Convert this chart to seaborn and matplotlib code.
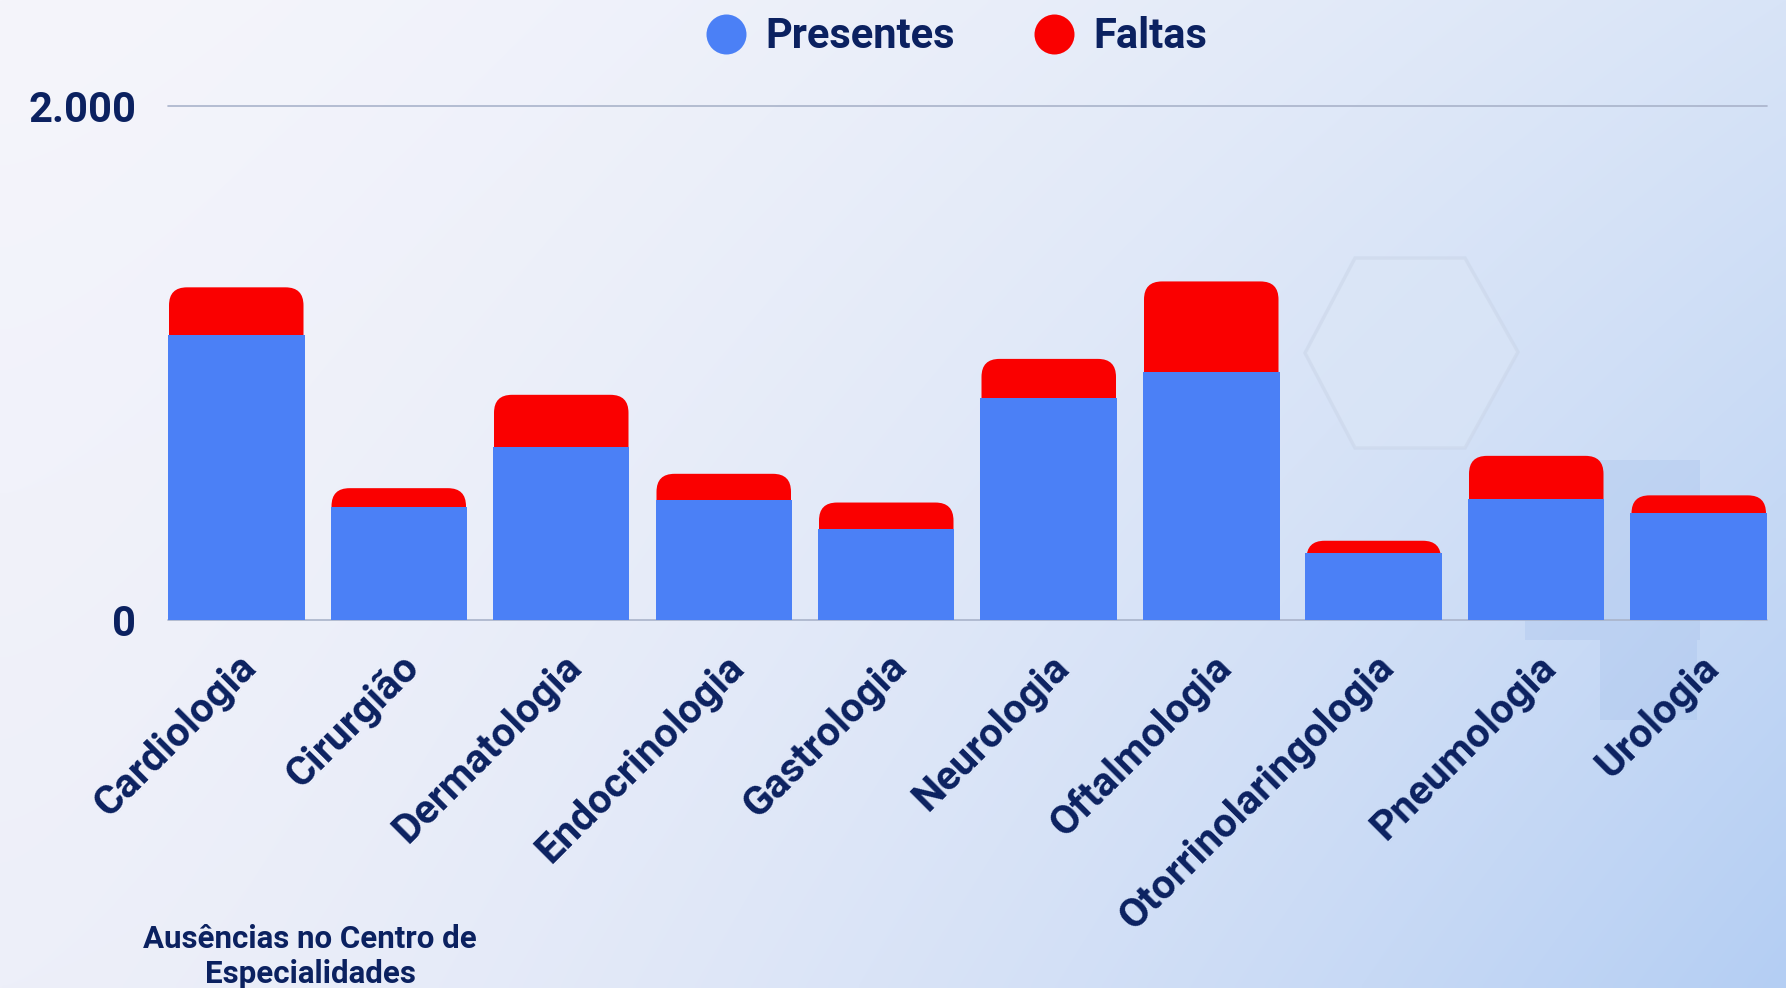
import matplotlib
matplotlib.use("Agg")
import matplotlib.pyplot as plt
import seaborn as sns
import numpy as np
import pandas as pd
from matplotlib.patches import FancyBboxPatch, Polygon, Rectangle
from matplotlib.lines import Line2D
from matplotlib.transforms import ScaledTranslation

# dados
especialidades = ["Cardiologia", "Cirurgião", "Dermatologia", "Endocrinologia", "Gastrologia",
                  "Neurologia", "Oftalmologia", "Otorrinolaringologia", "Pneumologia", "Urologia"]
presentes = [1108, 438, 671, 466, 353, 865, 966, 258, 471, 414]
faltas = [187, 74, 205, 102, 103, 151, 352, 49, 167, 70]
ytick_vals = [0, 2000]
ytick_labels = ["0", "2.000"]
legenda = ["Presentes", "Faltas"]
titulo = "Ausências no Centro de\nEspecialidades"

df = pd.DataFrame({"especialidade": especialidades, "presentes": presentes, "faltas": faltas})
df["total"] = df["presentes"] + df["faltas"]

AZUL = "#4b80f6"
VERMELHO = "#fa0000"
NAVY = "#0b2160"

sns.set_theme(style="white")
plt.rcParams["font.family"] = ["Roboto", "DejaVu Sans"]

W, H = 1786, 988
fig = plt.figure(figsize=(W / 100, H / 100), dpi=100)

# fundo em gradiente
bg = fig.add_axes([0, 0, 1, 1], zorder=-10)
yy, xx = np.mgrid[0:1:200j, 0:1:360j]
xx = xx ** 1.5
tl = np.array([245, 245, 251]) / 255
tr = np.array([216, 228, 247]) / 255
bl = np.array([237, 239, 249]) / 255
br = np.array([180, 206, 243]) / 255
img = (tl * ((1 - xx) * (1 - yy))[..., None] + tr * (xx * (1 - yy))[..., None]
       + bl * ((1 - xx) * yy)[..., None] + br * (xx * yy)[..., None])
bg.imshow(img, aspect="auto", extent=[0, 1, 0, 1], interpolation="bilinear")
bg.set_xlim(0, 1)
bg.set_ylim(0, 1)
bg.axis("off")

def px(x, y):
    return (x / W, 1 - y / H)

hexa = [px(1355, 258), px(1465, 258), px(1518, 352), px(1465, 448), px(1355, 448), px(1305, 353)]
bg.add_patch(Polygon(hexa, closed=True, fill=True, fc="#dbe6f6", ec="#c9d4e7", lw=2.5, alpha=0.5))
bg.add_patch(Rectangle(px(1525, 640), 175 / W, 180 / H, fc="#a3bfec", ec="none", alpha=0.3))
bg.add_patch(Rectangle(px(1600, 720), 97 / W, 80 / H, fc="#a3bfec", ec="none", alpha=0.3))

# grafico
ax = fig.add_axes([168 / W, 1 - 619.5 / H, (1767 - 168) / W, 513 / H])
ax.patch.set_alpha(0)

sns.barplot(data=df, x="especialidade", y="total", color=VERMELHO, saturation=1,
            width=0.84, errorbar=None, linewidth=0, ax=ax, zorder=2)
red_bars = list(ax.patches)
sns.barplot(data=df, x="especialidade", y="presentes", color=AZUL, saturation=1,
            width=0.84, errorbar=None, linewidth=0, ax=ax, zorder=3)
blue_bars = [p for p in ax.patches if p not in red_bars]

ax.set_xlim(-0.42, len(especialidades) - 0.58)
ax.set_ylim(0, 2000)

# cantos arredondados no topo (a parte de baixo fica escondida atras do azul)
ax_w = (1767 - 168)
ax_h = 513
xpu = ax_w / (ax.get_xlim()[1] - ax.get_xlim()[0])
ypu = ax_h / 2000
asp = xpu / ypu
r = 18 / xpu
ry = 18 / ypu
inset = 1.0 / xpu
for p, b in zip(red_bars, blue_bars):
    x0, w0, h0 = p.get_x(), p.get_width(), p.get_height()
    y0 = max(0, b.get_height() - 2 * ry)
    p.remove()
    ax.add_patch(FancyBboxPatch((x0 + inset, y0), w0 - 2 * inset, h0 - y0,
                                boxstyle=f"round,pad=0,rounding_size={r}",
                                mutation_aspect=asp, fc=VERMELHO, ec="none", zorder=2))

for s in ax.spines.values():
    s.set_visible(False)

ax.set_yticks(ytick_vals, ytick_labels)
ax.yaxis.grid(True, color="#a9b3ca", lw=1.2)
for gl in ax.get_ygridlines():
    gl.set_clip_on(False)
ax.set_axisbelow(True)
ax.tick_params(axis="y", length=0, pad=23, labelsize=30, labelcolor=NAVY)
for lbl in ax.get_yticklabels():
    lbl.set_fontweight("bold")

ax.set_xticks(range(len(especialidades)))
ax.set_xticklabels(especialidades, rotation=45, ha="right", va="center", rotation_mode="anchor",
                   fontsize=29.5, fontweight="bold", color=NAVY)
ax.tick_params(axis="x", length=0, pad=30)
off = ScaledTranslation(0.14, 0, fig.dpi_scale_trans)
for lbl in ax.get_xticklabels():
    lbl.set_transform(lbl.get_transform() + off)
ax.set_xlabel("")
ax.set_ylabel("")

handles = [Line2D([], [], marker="o", ls="none", ms=28.8, mfc=AZUL, mec="none"),
           Line2D([], [], marker="o", ls="none", ms=28.8, mfc=VERMELHO, mec="none")]
fig.legend(handles, legenda, loc="center", bbox_to_anchor=(956 / W, 1 - 37 / H), ncol=2,
           frameon=False, prop={"size": 30, "weight": "bold"}, labelcolor=NAVY,
           handlelength=1.0, handletextpad=0.45, columnspacing=1.87, borderpad=0)

fig.text(310 / W, 1 - 924 / H, titulo, ha="center", va="top", fontsize=22.5,
         fontweight="bold", color=NAVY, linespacing=1.2)

fig.savefig("out.png", dpi=100)
